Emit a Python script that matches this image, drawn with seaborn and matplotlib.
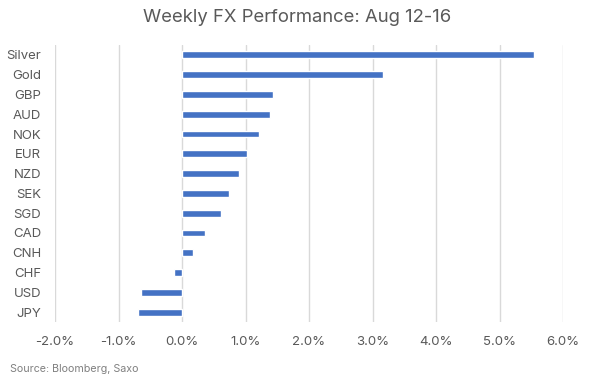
import matplotlib
matplotlib.use("Agg")
import matplotlib.pyplot as plt
import seaborn as sns
import pandas as pd
from matplotlib.ticker import FuncFormatter

currencies = ["Silver", "Gold", "GBP", "AUD", "NOK", "EUR", "NZD",
              "SEK", "SGD", "CAD", "CNH", "CHF", "USD", "JPY"]
weekly_change = [5.54, 3.16, 1.43, 1.38, 1.22, 1.02, 0.89,
                 0.74, 0.61, 0.37, 0.17, -0.12, -0.65, -0.70]

df = pd.DataFrame({"Currency": currencies, "Change": weekly_change})

sns.set_theme(style="white")
plt.rcParams['font.family'] = ['Inter', 'DejaVu Sans']

fig = plt.figure(figsize=(5.97, 3.89), dpi=100)
ax = fig.add_axes([55 / 597, 1 - 322 / 389, 508 / 597, 277 / 389])

sns.barplot(data=df, x="Change", y="Currency", orient="h",
            color="#4472C4", width=0.35, saturation=1, ax=ax)

ax.set_xlim(-2, 6)
ax.set_xticks(range(-2, 7))
ax.xaxis.set_major_formatter(FuncFormatter(lambda v, p: f"{v:.1f}%"))
ax.grid(axis="x", color="#d9d9d9", linewidth=1)
ax.set_axisbelow(True)
for s in ax.spines.values():
    s.set_visible(False)
ax.tick_params(axis="both", length=0, labelsize=9.5, colors="#595959")
ax.tick_params(axis="x", pad=10)
ax.tick_params(axis="y", pad=10)
ax.set_xlabel("")
ax.set_ylabel("")

fig.text(297 / 597, 1 - 17 / 389, "Weekly FX Performance: Aug 12-16",
         ha="center", va="center", fontsize=13.3, color="#595959")
fig.text(10 / 597, 1 - 369 / 389, "Source: Bloomberg, Saxo",
         ha="left", va="center", fontsize=7.7, color="#808080")

fig.savefig("out.png", dpi=100)
